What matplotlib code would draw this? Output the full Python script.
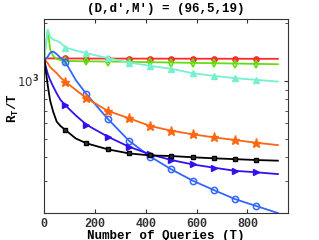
import matplotlib
matplotlib.use('Agg')
import matplotlib.pyplot as plt
from matplotlib.ticker import LogLocator, NullFormatter

plt.rcParams['font.family'] = 'Liberation Mono'
plt.rcParams['font.weight'] = 'bold'
plt.rcParams['mathtext.fontset'] = 'custom'
plt.rcParams['mathtext.rm'] = 'Liberation Mono:bold'

T = [1, 6, 15, 24, 36, 50, 65, 84, 125, 167, 251, 334, 418, 501, 585, 668, 752, 835, 920]
# indices that carry a marker
mark_idx = [7, 9, 10, 11, 12, 13, 14, 15, 16, 17]

red = [1312, 1312, 1311, 1311, 1310, 1310, 1310, 1309, 1309, 1308, 1308, 1307, 1307, 1306, 1306, 1305, 1305, 1304, 1304]
green = [1310, 1500, 1850, 1460, 1350, 1300, 1285, 1270, 1268, 1265, 1262, 1258, 1252, 1247, 1242, 1237, 1232, 1227, 1222]
cyan = [1310, 1500, 1850, 1700, 1640, 1620, 1580, 1494, 1440, 1396, 1315, 1247, 1198, 1156, 1097, 1062, 1033, 1012, 992]
blue = [1310, 1300, 1340, 1400, 1424, 1380, 1320, 1255, 1010, 852, 633, 487, 402, 345, 301, 269, 241, 222, 204]
orange = [1310, 1280, 1235, 1180, 1140, 1097, 1040, 991, 897, 812, 697, 638, 581, 549, 526, 507, 491, 475, 462]
violet = [1310, 1200, 1085, 1010, 935, 860, 795, 745, 660, 590, 511, 453, 413, 386, 366, 352, 339, 333, 326]
black = [1310, 1150, 940, 790, 690, 612, 581, 554, 500, 472, 439, 418, 408, 405, 399, 394, 390, 386, 383]

fig = plt.figure(figsize=(3.19, 2.4), dpi=100)
ax = fig.add_axes([0.138, 0.114, 0.765, 0.806])

ax.plot(T, red, color='#ff2a2a', lw=1.3, marker='o', ms=3.8, markevery=mark_idx)
ax.plot(T, green, color='#66dd11', lw=1.3, marker='d', ms=4, mfc='none', mew=1.2, markevery=mark_idx)
ax.plot(T, cyan, color='#77f0d0', lw=1.3, marker='^', ms=4.5, markevery=mark_idx)
ax.plot(T, blue, color='#3366ff', lw=1.3, marker='o', ms=4.5, mfc='none', mew=1.1, markevery=mark_idx)
ax.plot(T, orange, color='#ff6611', lw=1.3, marker='*', ms=6.5, markevery=mark_idx)
ax.plot(T, violet, color='#3311ee', lw=1.3, marker='>', ms=4.5, markevery=mark_idx)
ax.plot(T, black, color='black', lw=1.3, marker='s', ms=3.5, mfc='#333333', markevery=mark_idx)

ax.set_yscale('log')
ax.set_xlim(0, 960)
ax.set_ylim(205, 2100)
ax.set_xticks([0, 200, 400, 600, 800])
ax.set_yticks([1000])
ax.set_yticklabels(['10$^{\\mathsf{3}}$'], fontfamily='DejaVu Sans', fontweight='normal')
ax.yaxis.set_minor_locator(LogLocator(base=10, subs=range(2, 10)))
ax.yaxis.set_minor_formatter(NullFormatter())
ax.tick_params(which='both', direction='in', top=True, right=True, labelsize=8.5, colors='#333333')
ax.tick_params(which='major', length=3)
ax.tick_params(which='minor', length=2)
for s in ax.spines.values():
    s.set_color('#333333')

ax.set_title("(D,d\u2032,M\u2032) = (96,5,19)", fontsize=9, fontweight='bold', pad=5)
ax.set_xlabel('Number of Queries (T)', fontsize=9, fontweight='bold', labelpad=0)
ax.set_ylabel('R$_{\\mathrm{T}}$/T', fontsize=9, fontweight='bold')
ax.yaxis.set_label_coords(-0.095, 0.54)

fig.savefig('out.png', dpi=100)
